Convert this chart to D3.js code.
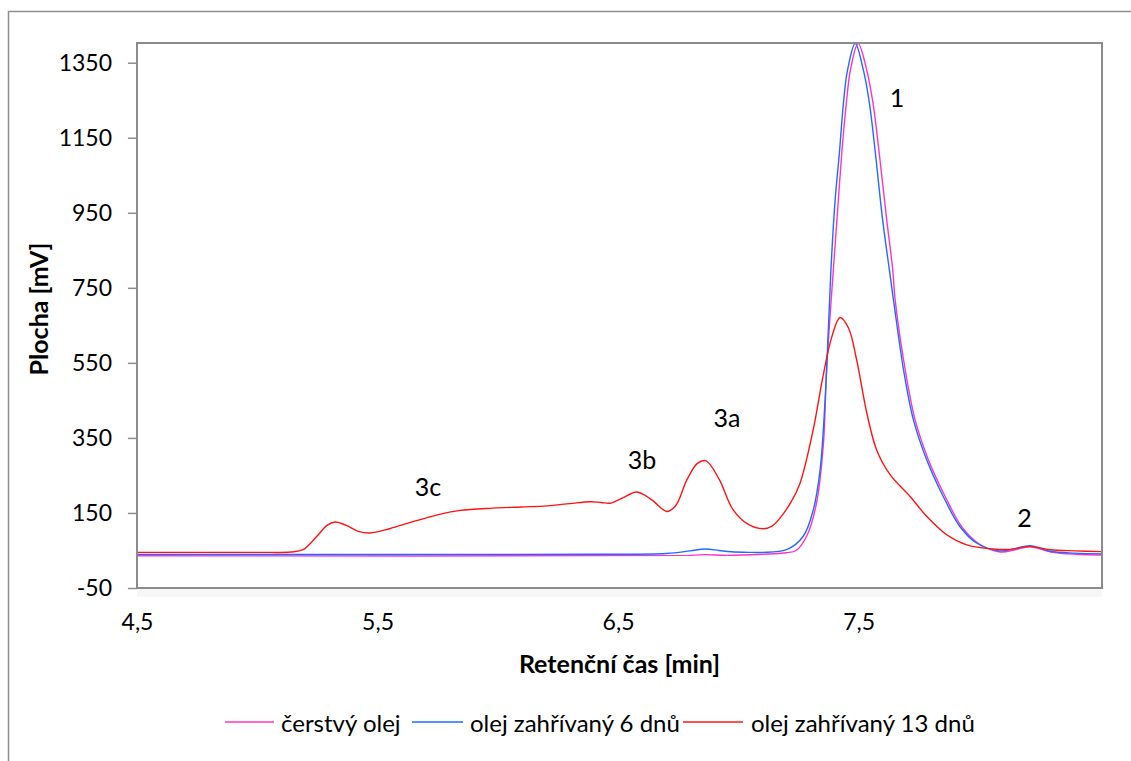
<!DOCTYPE html>
<html>
<head>
<meta charset="utf-8">
<script src="https://cdn.jsdelivr.net/npm/d3@7"></script>
<style>
  html, body { margin: 0; padding: 0; background: #fff; }
  svg { display: block; font-family: Lato, "Noto Sans", sans-serif; }
</style>
</head>
<body>
<svg id="chart" width="1131" height="761"></svg>
<script>
// Retention time [min] and detector response [mV] for each oil sample
const freshTime = [4.50, 6.80, 6.862, 6.95, 7.10, 7.20, 7.24, 7.284, 7.325, 7.354, 7.367, 7.395, 7.41, 7.43, 7.449, 7.466, 7.498, 7.534, 7.56, 7.586, 7.617, 7.642, 7.652, 7.694, 7.735, 7.79, 7.86, 7.928, 8.0, 8.09, 8.15, 8.213, 8.30, 8.40, 8.51];
const freshValue = [36, 37, 39, 37, 40, 44, 50, 88, 176, 336, 531, 798, 931, 1108, 1242, 1330, 1401, 1330, 1242, 1108, 931, 798, 718, 531, 398, 292, 194, 114, 68, 46, 52, 60, 46, 40, 38];

const day6Time = [4.50, 6.40, 6.70, 6.80, 6.862, 6.92, 6.97, 7.05, 7.10, 7.20, 7.27, 7.312, 7.34, 7.36, 7.373, 7.385, 7.402, 7.42, 7.437, 7.454, 7.486, 7.52, 7.545, 7.57, 7.60, 7.628, 7.645, 7.687, 7.728, 7.783, 7.852, 7.921, 7.99, 8.087, 8.15, 8.213, 8.296, 8.40, 8.51];
const day6Value = [39.5, 40, 42, 49, 54, 50, 46.5, 45, 45, 52, 88, 159, 265, 443, 620, 798, 980, 1108, 1242, 1330, 1401, 1330, 1242, 1108, 931, 798, 718, 531, 398, 292, 194, 114, 70, 49, 55, 63, 48, 43, 41];

const day13Time = [4.50, 5.00, 5.14, 5.19, 5.247, 5.29, 5.323, 5.37, 5.42, 5.469, 5.55, 5.648, 5.75, 5.843, 5.98, 6.10, 6.205, 6.30, 6.384, 6.43, 6.467, 6.52, 6.578, 6.64, 6.703, 6.74, 6.786, 6.83, 6.866, 6.92, 6.978, 7.04, 7.103, 7.14, 7.174, 7.22, 7.257, 7.311, 7.352, 7.389, 7.423, 7.458, 7.492, 7.534, 7.575, 7.631, 7.714, 7.783, 7.866, 7.95, 8.06, 8.13, 8.213, 8.296, 8.40, 8.51];
const day13Value = [45, 45, 46, 52, 87, 117, 126, 117, 101, 96.5, 108, 127, 145, 157, 163, 166, 169, 175, 180, 178, 176, 190, 206, 185, 154, 170, 238, 282, 289, 240, 159, 120, 108, 115, 137, 180, 230, 371, 514, 620, 671, 643, 558, 417, 318, 252, 194, 141, 92, 65, 54, 53, 61, 52, 49, 47];

const seriesNames = ["čerstvý olej", "olej zahřívaný 6 dnů", "olej zahřívaný 13 dnů"];
const seriesColors = ["#FF33CC", "#1F6BFF", "#FF1414"];

const yTicks = [-50, 150, 350, 550, 750, 950, 1150, 1350];
const xTicks = [4.5, 5.5, 6.5, 7.5];

// Peak annotations: label, retention time, response
const peakLabels = ["1", "2", "3a", "3b", "3c"];
const peakTime = [7.66, 8.19, 6.953, 6.60, 5.71];
const peakValue = [1259, 140, 406, 294, 222];

const xTitle = "Retenční čas [min]";
const yTitle = "Plocha [mV]";

// ---- layout ----
const svg = d3.select("#chart");
const plot = { left: 137, right: 1102, top: 43, bottom: 588 };

const x = d3.scaleLinear().domain([4.5, 8.512]).range([plot.left, plot.right]);
const y = d3.scaleLinear().domain([-50, 1402.5]).range([plot.bottom, plot.top]);

const fmt = v => String(v).replace(".", ",");

// outer chart frame
svg.append("rect")
  .attr("x", 8.5).attr("y", 11.5)
  .attr("width", 1140).attr("height", 770)
  .attr("fill", "#fff").attr("stroke", "#8e8e8e").attr("stroke-width", 1.5);

// faint strip under the category axis
svg.append("rect")
  .attr("x", plot.left).attr("y", plot.bottom + 1)
  .attr("width", plot.right - plot.left).attr("height", 8)
  .attr("fill", "#f6f6f6");

// series
const series = [
  { name: seriesNames[0], color: seriesColors[0], t: freshTime, v: freshValue },
  { name: seriesNames[1], color: seriesColors[1], t: day6Time, v: day6Value },
  { name: seriesNames[2], color: seriesColors[2], t: day13Time, v: day13Value }
];

const line = d3.line()
  .x(d => x(d[0]))
  .y(d => y(d[1]))
  .curve(d3.curveCatmullRom.alpha(0.5));

svg.append("defs").append("clipPath").attr("id", "plotClip")
  .append("rect")
  .attr("x", plot.left).attr("y", plot.top - 1)
  .attr("width", plot.right - plot.left).attr("height", plot.bottom - plot.top + 1);

const gLines = svg.append("g").attr("clip-path", "url(#plotClip)");
series.forEach(s => {
  gLines.append("path")
    .datum(s.t.map((t, i) => [t, s.v[i]]))
    .attr("fill", "none")
    .attr("stroke", s.color)
    .attr("stroke-width", 1.4)
    .attr("stroke-linejoin", "round")
    .attr("d", line);
});

// plot frame
svg.append("rect")
  .attr("x", plot.left).attr("y", plot.top)
  .attr("width", plot.right - plot.left).attr("height", plot.bottom - plot.top)
  .attr("fill", "none").attr("stroke", "#8c8c8c").attr("stroke-width", 2);

// y axis
const yAxis = d3.axisLeft(y).tickValues(yTicks).tickSize(9).tickPadding(16).tickFormat(fmt);
const gy = svg.append("g").attr("transform", `translate(${plot.left},0)`).call(yAxis);
gy.select(".domain").remove();
gy.selectAll(".tick line").attr("stroke", "#8c8c8c").attr("stroke-width", 1.5);
gy.selectAll(".tick text")
  .attr("fill", "#000")
  .style("font-size", "23px")
  .style("font-family", "Lato, sans-serif");

// x axis (labels only)
const xAxis = d3.axisBottom(x).tickValues(xTicks).tickSize(0).tickPadding(26).tickFormat(fmt);
const gx = svg.append("g").attr("transform", `translate(0,${plot.bottom})`).call(xAxis);
gx.select(".domain").remove();
gx.selectAll(".tick text")
  .attr("fill", "#000")
  .style("font-size", "23px")
  .style("font-family", "Lato, sans-serif");

// axis titles
svg.append("text")
  .attr("x", (518 + 721) / 2).attr("y", 663)
  .attr("text-anchor", "middle").attr("dominant-baseline", "central")
  .style("font-size", "25px").style("font-weight", "bold")
  .text(xTitle);

svg.append("text")
  .attr("transform", "translate(38,309) rotate(-90)")
  .attr("text-anchor", "middle").attr("dominant-baseline", "central")
  .style("font-size", "25px").style("font-weight", "bold")
  .text(yTitle);

// peak labels
peakLabels.forEach((lab, i) => {
  svg.append("text")
    .attr("x", x(peakTime[i])).attr("y", y(peakValue[i]))
    .attr("text-anchor", "middle").attr("dominant-baseline", "central")
    .style("font-size", "25px")
    .text(lab);
});

// legend
const legendY = 722;
const legendItems = [
  { x0: 225, x1: 274, tx: 281 },
  { x0: 412, x1: 463, tx: 470 },
  { x0: 683, x1: 743, tx: 751 }
];
series.forEach((s, i) => {
  const it = legendItems[i];
  svg.append("line")
    .attr("x1", it.x0).attr("x2", it.x1)
    .attr("y1", legendY).attr("y2", legendY)
    .attr("stroke", s.color).attr("stroke-width", 1.5);
  svg.append("text")
    .attr("x", it.tx).attr("y", legendY)
    .attr("dominant-baseline", "central")
    .style("font-size", "24px")
    .text(s.name);
});
</script>
</body>
</html>
